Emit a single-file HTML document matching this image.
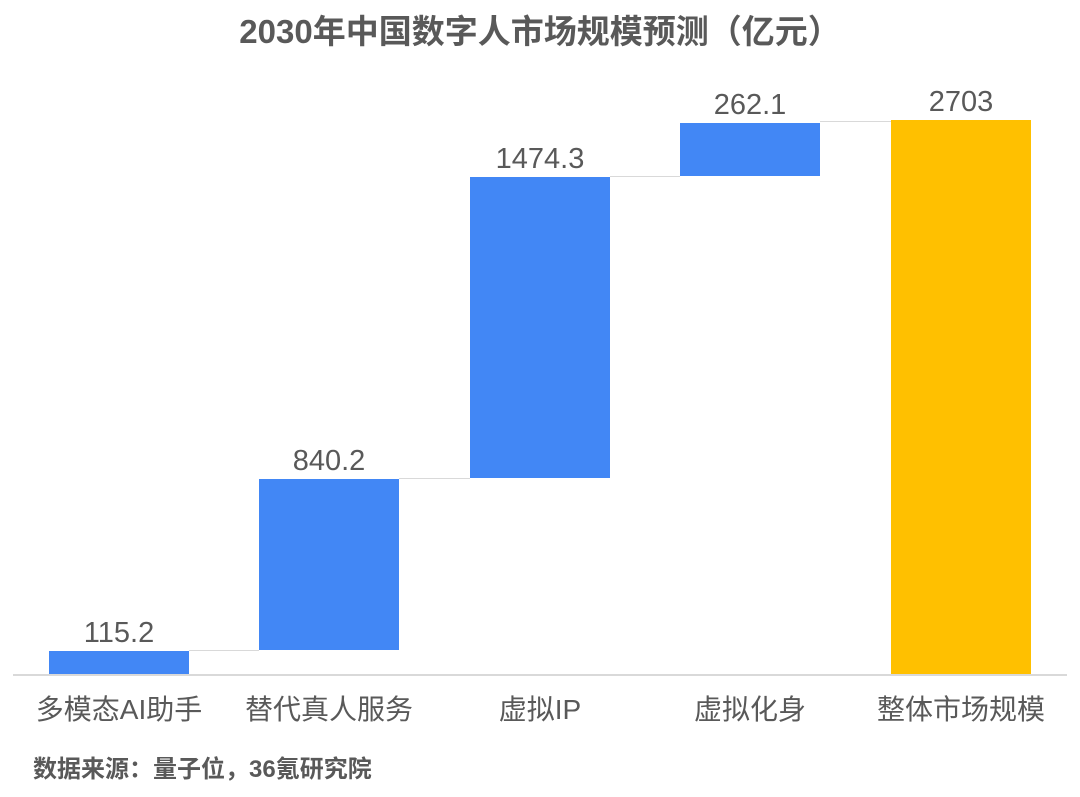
<!DOCTYPE html>
<html><head><meta charset="utf-8"><style>
body{margin:0;width:1080px;height:797px;background:#fff;overflow:hidden;position:relative;font-family:"Liberation Sans","Noto Sans CJK SC",sans-serif;color:#595959}
.b{position:absolute;background:#4287f5}
.v{position:absolute;width:200px;text-align:center;font-size:29px;line-height:32px}
.c{position:absolute;width:240px;text-align:center;font-size:28px;line-height:32px;top:694px}
.l{position:absolute;height:1px;background:#d9d9d9}
</style></head><body>
<div style="position:absolute;top:12px;left:0;width:1080px;text-align:center;font-size:33px;font-weight:bold;line-height:40px">2030年中国数字人市场规模预测（亿元）</div>
<div class="l" style="left:13px;width:1054px;top:674px;height:2px"></div>
<div class="l" style="left:189px;width:70px;top:650px"></div>
<div class="l" style="left:399px;width:71px;top:478px"></div>
<div class="l" style="left:610px;width:70px;top:176px"></div>
<div class="l" style="left:820px;width:71px;top:121px"></div>
<div class="b" style="left:49px;width:140px;top:651px;height:23px"></div>
<div class="b" style="left:259px;width:140px;top:479px;height:171px"></div>
<div class="b" style="left:470px;width:140px;top:177px;height:301px"></div>
<div class="b" style="left:680px;width:140px;top:123px;height:53px"></div>
<div class="b" style="left:891px;width:140px;top:120px;height:554px;background:#ffc000"></div>
<div class="v" style="left:19px;top:617px">115.2</div>
<div class="v" style="left:229px;top:445px">840.2</div>
<div class="v" style="left:440px;top:143px">1474.3</div>
<div class="v" style="left:650px;top:89px">262.1</div>
<div class="v" style="left:861px;top:86px">2703</div>
<div class="c" style="left:-1px">多模态AI助手</div>
<div class="c" style="left:209px">替代真人服务</div>
<div class="c" style="left:420px">虚拟IP</div>
<div class="c" style="left:630px">虚拟化身</div>
<div class="c" style="left:841px">整体市场规模</div>
<div style="position:absolute;left:33px;top:754px;font-size:24px;font-weight:bold;line-height:32px">数据来源：量子位，36氪研究院</div>
</body></html>
